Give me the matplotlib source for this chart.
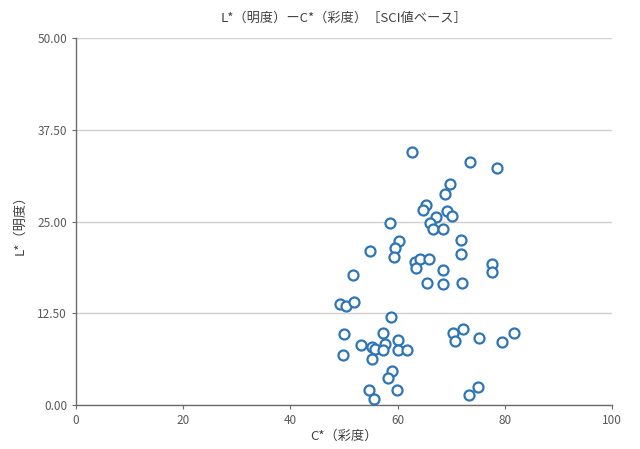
import matplotlib
matplotlib.use("Agg")
import matplotlib.pyplot as plt

plt.rcParams['font.family'] = ['Liberation Sans Narrow', 'Noto Sans CJK JP', 'DejaVu Sans']

# C* (chroma) and L* (lightness) values
chroma = [62.7, 73.5, 78.5, 69.8, 68.8, 65.3, 64.7, 69.2, 70.2, 67.2,
          66.0, 66.6, 68.5, 58.6, 60.3, 59.5, 59.3, 54.9, 71.8, 71.8,
          63.3, 64.2, 65.9, 63.4, 68.5, 65.5, 68.5, 72.0, 77.6, 77.6,
          51.7, 49.3, 50.4, 51.9, 58.8, 50.0, 49.8, 53.2, 55.2, 55.8,
          57.3, 57.7, 57.3, 55.2, 60.1, 60.1, 61.8, 59.0, 58.2, 59.9,
          54.7, 55.6, 70.3, 72.2, 70.7, 75.2, 79.5, 81.7, 73.3, 75.0]
lightness = [34.5, 33.1, 32.3, 30.1, 28.8, 27.3, 26.6, 26.4, 25.8, 25.6,
             24.8, 24.0, 24.0, 24.8, 22.3, 21.4, 20.2, 21.0, 22.5, 20.6,
             19.5, 19.9, 19.9, 18.7, 18.4, 16.6, 16.5, 16.6, 19.2, 18.1,
             17.7, 13.8, 13.5, 14.0, 12.0, 9.7, 6.8, 8.2, 7.9, 7.6,
             9.8, 8.3, 7.5, 6.3, 8.9, 7.5, 7.5, 4.6, 3.7, 2.0,
             2.0, 0.8, 9.8, 10.4, 8.7, 9.1, 8.6, 9.8, 1.4, 2.5]

x_ticks = [0, 20, 40, 60, 80, 100]
y_ticks = [0, 12.5, 25, 37.5, 50]

fig = plt.figure(figsize=(6.4, 4.49), dpi=100)
ax = fig.add_axes([0.119, 0.098, 0.837, 0.817])

ax.scatter(chroma, lightness, s=52, facecolors='white', edgecolors='#2E75B6',
           linewidths=1.6, zorder=3)

ax.set_xlim(0, 100)
ax.set_ylim(0, 50)
ax.set_xticks(x_ticks)
ax.set_xticklabels([str(v) for v in x_ticks])
ax.set_yticks(y_ticks)
ax.set_yticklabels([f"{v:.2f}" for v in y_ticks])

ax.grid(axis='y', color='#d0d0d0', linewidth=1.0)
ax.set_axisbelow(True)
for side in ['top', 'right']:
    ax.spines[side].set_visible(False)
for side in ['left', 'bottom']:
    ax.spines[side].set_color('#6b6b6b')
    ax.spines[side].set_linewidth(1.0)
ax.tick_params(colors='#6b6b6b', labelcolor='#595959', labelsize=8.5,
               length=3, width=0.8)

ax.set_title("L*（明度）ーC*（彩度）［SCI値ベース］", fontsize=9.5,
             color='#404040', pad=12)
ax.set_xlabel("C*（彩度）", fontsize=9.5, color='#404040', labelpad=2)
ax.set_ylabel("L*（明度）", fontsize=9.5, color='#404040', labelpad=8)

fig.savefig("out.png", dpi=100)
